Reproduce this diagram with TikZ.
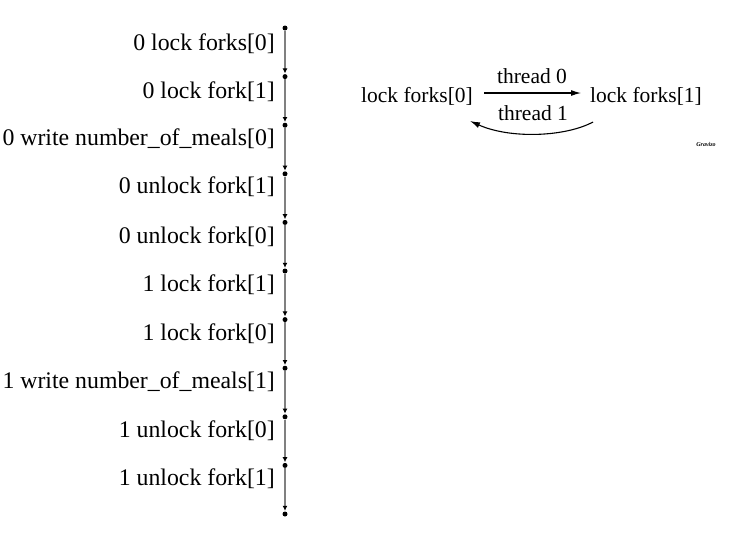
\documentclass[tikz,border=0pt]{standalone}
\usepackage{fontspec}
\setmainfont{Liberation Serif}
\usetikzlibrary{arrows.meta}
\begin{document}
\begin{tikzpicture}[x=1pt,y=-1pt,
  lab/.style={font=\fontsize{23.8}{26}\selectfont, inner sep=0pt},
  rlab/.style={font=\fontsize{21.5}{24}\selectfont, inner sep=0pt},
  pt/.style={circle,fill=black,inner sep=0pt,minimum size=5pt},
  seg/.style={draw=black!50,line width=1.5pt,-{Latex[color=black,length=5pt,width=5pt]},shorten >=0.5pt},
  edge/.style={draw=black,line width=1.1pt,-{Latex[length=10pt,width=6pt]}}]
\useasboundingbox (0,0) rectangle (736,542);
% points
\foreach \i in {0,...,10}{
  \node[pt] (p\i) at (285,{28+48.6*\i}) {};
}
\foreach \i [evaluate=\i as \j using int(\i+1)] in {0,...,9}{
  \draw[seg] (p\i) -- (p\j);
}
% labels
\node[lab,anchor=east] (l0) at (275,44) {0 lock forks[0]};
\node[lab,anchor=east] (l1) at (275,92) {0 lock fork[1]};
\node[lab,anchor=east] (l2) at (275,139) {0 write number\_of\_meals[0]};
\node[lab,anchor=east] (l3) at (275,187) {0 unlock fork[1]};
\node[lab,anchor=east] (l4) at (275,237) {0 unlock fork[0]};
\node[lab,anchor=east] (l5) at (275,285) {1 lock fork[1]};
\node[lab,anchor=east] (l6) at (275,334) {1 lock fork[0]};
\node[lab,anchor=east] (l7) at (275,382) {1 write number\_of\_meals[1]};
\node[lab,anchor=east] (l8) at (275,431) {1 unlock fork[0]};
\node[lab,anchor=east] (l9) at (275,479) {1 unlock fork[1]};
% right graph
\node[rlab] (a) at (417,96) {lock forks[0]};
\node[rlab] (b) at (646,96) {lock forks[1]};
\coordinate (a0) at (484,93);
\coordinate (b0) at (581,93);
\coordinate (b1) at (593,122);
\coordinate (a1) at (470,121);
\draw[edge] (a0) -- (b0);
\node[rlab] (t0) at (532,76) {thread 0};
\draw[edge] (b1) .. controls (565,137) and (510,139) .. (a1);
\node[rlab] (t1) at (533,113) {thread 1};
\node[font=\fontsize{6}{7}\selectfont\itshape\bfseries] (g) at (706,144) {Gravizo};
\end{tikzpicture}
\end{document}
